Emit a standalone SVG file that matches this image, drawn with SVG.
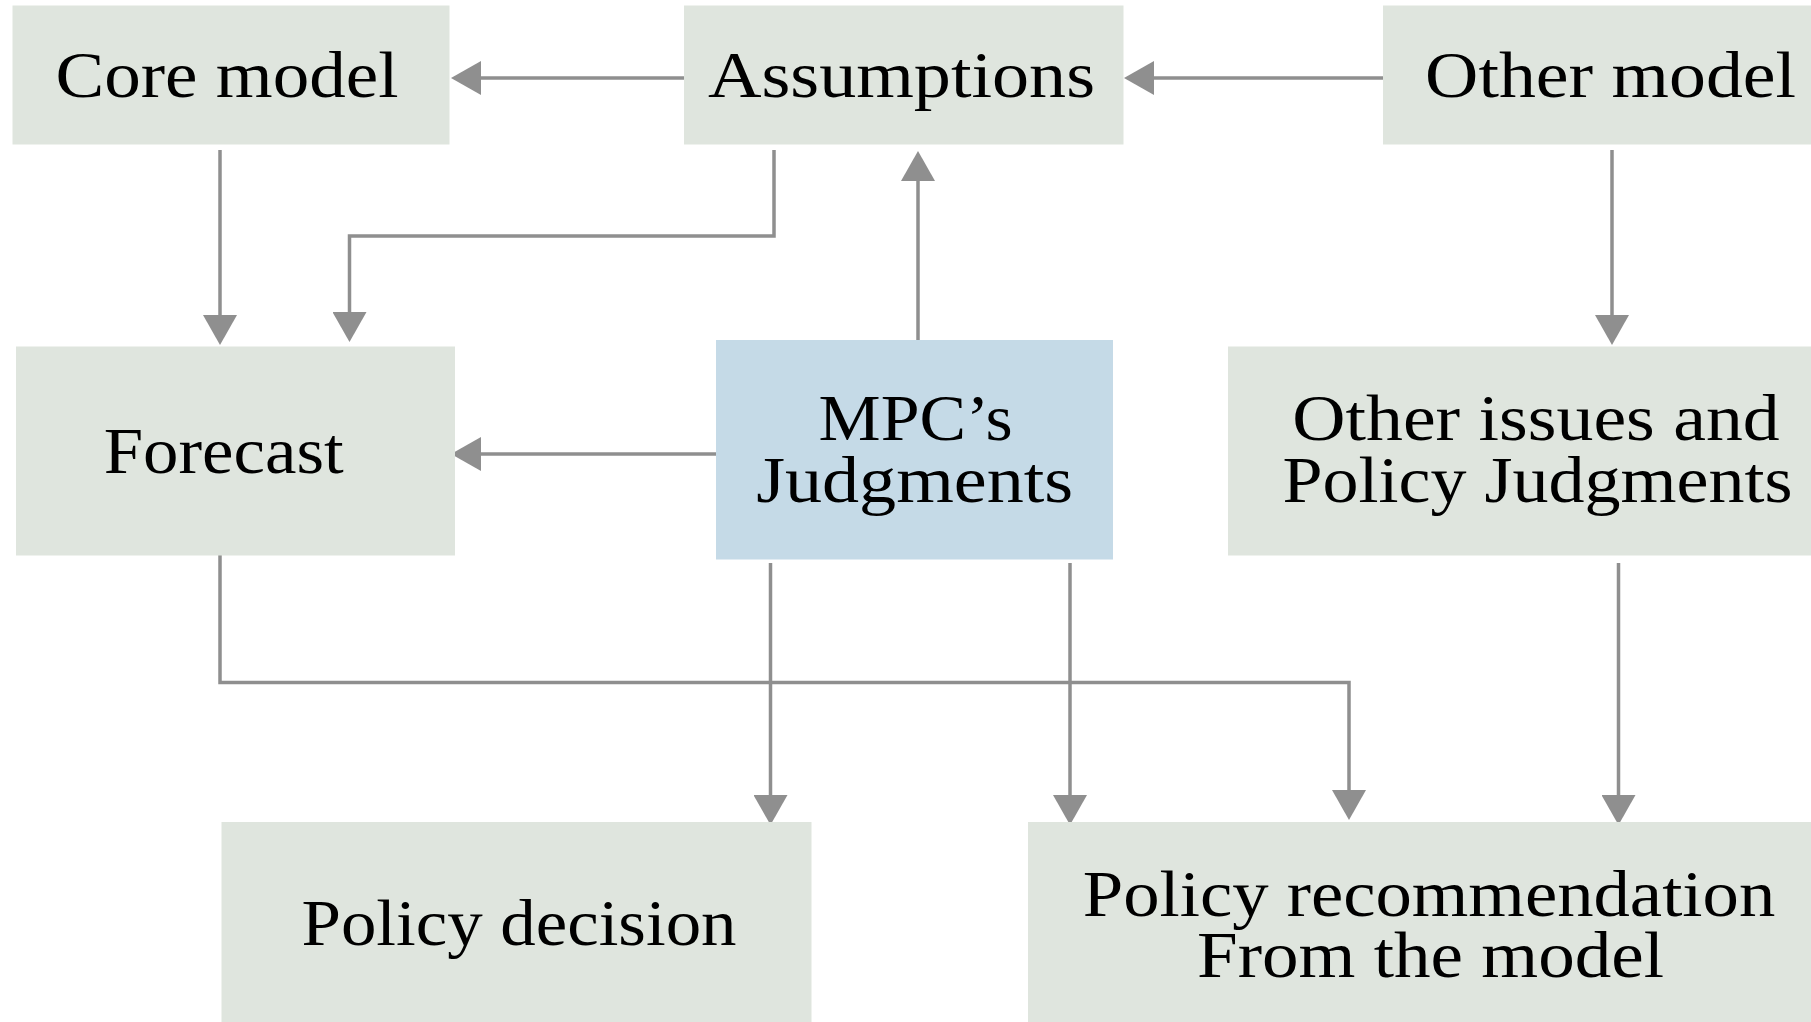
<svg xmlns="http://www.w3.org/2000/svg" width="1811" height="1022" viewBox="0 0 1811 1022">
<defs>
<style>
.box{fill:#dfe5de;}
.mpc{fill:#c5dae7;}
.t{font-family:"Liberation Serif","DejaVu Serif",serif;font-size:66px;fill:#000;text-anchor:middle;}
.c{fill:none;stroke:#8f8f8f;stroke-width:3.5;marker-end:url(#ah);}
</style>
<marker id="ah" viewBox="0 0 30 34" refX="26" refY="17" markerWidth="30" markerHeight="34" markerUnits="userSpaceOnUse" orient="auto">
<path d="M0,0 L30,17 L0,34 Z" fill="#8f8f8f"/>
</marker>
</defs>
<rect width="1811" height="1022" fill="#ffffff"/>
<g id="connectors">
<path class="c" d="M684 78 H455"/>
<path class="c" d="M1383 78 H1128"/>
<path class="c" d="M220 150 V341"/>
<path class="c" d="M774 150 V236 H349.5 V338"/>
<path class="c" d="M918 340 V155"/>
<path class="c" d="M1612 150 V341"/>
<path class="c" d="M716 454 H455"/>
<path class="c" d="M220 555 V682.5 H1349 V816"/>
<path class="c" d="M770.5 563 V821"/>
<path class="c" d="M1070 563 V821"/>
<path class="c" d="M1618.5 563 V821"/>
</g>
<g id="core-model">
<rect class="box" x="12.5" y="5.5" width="437" height="139"/>
<text class="t" x="227" y="96.7" textLength="343" lengthAdjust="spacingAndGlyphs">Core model</text>
</g>
<g id="assumptions">
<rect class="box" x="684" y="5.5" width="439.5" height="139"/>
<text class="t" x="901.5" y="96.7" textLength="387" lengthAdjust="spacingAndGlyphs">Assumptions</text>
</g>
<g id="other-model">
<rect class="box" x="1383" y="5.5" width="428" height="139"/>
<text class="t" x="1610.6" y="96.7" textLength="371" lengthAdjust="spacingAndGlyphs">Other model</text>
</g>
<g id="forecast">
<rect class="box" x="16" y="346.5" width="439" height="209"/>
<text class="t" x="223.7" y="473.3" textLength="240" lengthAdjust="spacingAndGlyphs">Forecast</text>
</g>
<g id="mpc-judgments">
<rect class="mpc" x="716" y="340" width="397" height="219.5"/>
<text class="t" x="915.6" y="440" textLength="194" lengthAdjust="spacingAndGlyphs">MPC’s</text>
<text class="t" x="914.7" y="501.7" textLength="317" lengthAdjust="spacingAndGlyphs">Judgments</text>
</g>
<g id="other-issues">
<rect class="box" x="1228" y="346.5" width="583" height="209"/>
<text class="t" x="1536" y="440" textLength="487.5" lengthAdjust="spacingAndGlyphs">Other issues and</text>
<text class="t" x="1537.5" y="501.7" textLength="510" lengthAdjust="spacingAndGlyphs">Policy Judgments</text>
</g>
<g id="policy-decision">
<rect class="box" x="221.5" y="822" width="590" height="200"/>
<text class="t" x="519" y="945" textLength="435" lengthAdjust="spacingAndGlyphs">Policy decision</text>
</g>
<g id="policy-recommendation">
<rect class="box" x="1028" y="822" width="783" height="200"/>
<text class="t" x="1429" y="915.7" textLength="692.5" lengthAdjust="spacingAndGlyphs">Policy recommendation</text>
<text class="t" x="1430.5" y="976.7" textLength="467" lengthAdjust="spacingAndGlyphs">From the model</text>
</g>
</svg>
